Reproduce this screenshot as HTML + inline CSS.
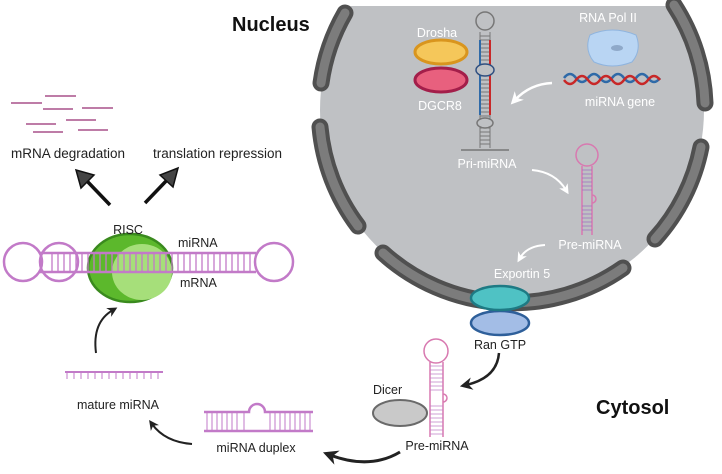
<!DOCTYPE html>
<html><head><meta charset="utf-8"><style>
html,body{margin:0;padding:0;background:#fff}
svg{display:block}
text{font-family:"Liberation Sans",sans-serif}
</style></head><body>
<svg width="722" height="474" viewBox="0 0 722 474" xmlns="http://www.w3.org/2000/svg">
<defs>
<marker id="bh" viewBox="0 0 10 10" refX="5" refY="5" markerWidth="5" markerHeight="5" orient="auto"><path d="M0,0 L10,5 L0,10 L3,5Z" fill="#222"/></marker>
<marker id="wh" viewBox="0 0 10 10" refX="5" refY="5" markerWidth="5" markerHeight="5" orient="auto"><path d="M0,0 L10,5 L0,10 L3,5Z" fill="#fff"/></marker>
</defs>
<!-- nucleus -->
<circle cx="512" cy="110" r="192" fill="#bfc1c4"/>
<rect x="0" y="0" width="722" height="6" fill="#fff"/>
<g fill="none" stroke-linecap="round">
<g stroke="#505050" stroke-width="17">
<path d="M345,13 A193,193 0 0 0 321,83"/>
<path d="M320,127 A193,193 0 0 0 358,226"/>
<path d="M383,253 A193,193 0 0 0 623,268"/>
<path d="M655,239 A193,193 0 0 0 701,147"/>
<path d="M674,5 A193,193 0 0 1 705,103"/>
</g>
<g stroke="#7c7c7c" stroke-width="9">
<path d="M345,13 A193,193 0 0 0 321,83"/>
<path d="M320,127 A193,193 0 0 0 358,226"/>
<path d="M383,253 A193,193 0 0 0 623,268"/>
<path d="M655,239 A193,193 0 0 0 701,147"/>
<path d="M674,5 A193,193 0 0 1 705,103"/>
</g>
</g>
<text x="232" y="31" font-size="20" font-weight="bold" fill="#111">Nucleus</text>
<text x="596" y="414" font-size="20" font-weight="bold" fill="#111">Cytosol</text>

<!-- Drosha / DGCR8 -->
<ellipse cx="441" cy="52" rx="26" ry="12" fill="#f5c75a" stroke="#d9951e" stroke-width="3"/>
<ellipse cx="441" cy="80" rx="26" ry="12" fill="#e8607e" stroke="#a31e4a" stroke-width="3"/>
<text x="437" y="37" font-size="12.5" fill="#fff" text-anchor="middle">Drosha</text>
<text x="440" y="110" font-size="12.5" fill="#fff" text-anchor="middle">DGCR8</text>

<!-- pri-miRNA -->
<g stroke="#777" stroke-width="1">
<path d="M480,32 V148 M490,32 V148"/>
<path d="M480,36 H490 M480,40 H490 M480,44 H490 M480,48 H490 M480,52 H490 M480,56 H490 M480,60 H490 M480,64 H490 M480,76 H490 M480,80 H490 M480,84 H490 M480,88 H490 M480,92 H490 M480,96 H490 M480,100 H490 M480,104 H490 M480,108 H490 M480,112 H490 M480,116 H490 M480,128 H490 M480,132 H490 M480,136 H490 M480,140 H490 M480,144 H490"/>
</g>
<circle cx="485" cy="21" r="9" fill="none" stroke="#777" stroke-width="1.5"/>
<path d="M480,40 V115" stroke="#2f6aa8" stroke-width="2"/>
<path d="M490,40 V115" stroke="#c82828" stroke-width="2"/>
<ellipse cx="485" cy="70" rx="9" ry="6" fill="#bfc1c4" stroke="#2f4f80" stroke-width="1.5"/>
<ellipse cx="485" cy="123" rx="8" ry="5" fill="#bfc1c4" stroke="#777" stroke-width="1.5"/>
<path d="M461,150 H509" stroke="#777" stroke-width="1.5"/>
<text x="487" y="168" font-size="12.5" fill="#fff" text-anchor="middle">Pri-miRNA</text>

<!-- RNA Pol II -->
<path d="M590,35 Q612,25 636,35 Q642,50 632,62 Q612,70 594,62 Q584,50 590,35Z" fill="#b9d5f3" stroke="#8fb4de" stroke-width="1"/>
<ellipse cx="617" cy="48" rx="6" ry="3" fill="#8fa9c9"/>
<text x="608" y="22" font-size="12.5" fill="#fff" text-anchor="middle">RNA Pol II</text>
<path d="M564,78 Q570,70 576,78 T588,78 T600,78 T612,78 T624,78 T636,78 T648,78 T660,78" fill="none" stroke="#2f6aa8" stroke-width="2.5"/>
<path d="M564,80 Q570,88 576,80 T588,80 T600,80 T612,80 T624,80 T636,80 T648,80 T660,80" fill="none" stroke="#c82828" stroke-width="2.5"/>
<text x="620" y="106" font-size="12.5" fill="#fff" text-anchor="middle">miRNA gene</text>
<path d="M552,83 Q530,84 515,100" fill="none" stroke="#fff" stroke-width="2.5" marker-end="url(#wh)"/>

<!-- pre-miRNA nucleus -->
<path d="M582,166 V235 M592,166 V235" stroke="#d879b0" stroke-width="1.5"/>
<g stroke="#a070c0" stroke-width="0.8"><path d="M582,170 H592 M582,174 H592 M582,178 H592 M582,182 H592 M582,186 H592 M582,190 H592 M582,206 H592 M582,210 H592 M582,214 H592 M582,218 H592 M582,222 H592 M582,226 H592 M582,230 H592"/></g>
<circle cx="587" cy="155" r="11" fill="none" stroke="#d879b0" stroke-width="1.5"/>
<path d="M592,195 A4,4 0 0 1 592,203" fill="none" stroke="#d879b0" stroke-width="1.5"/>
<text x="590" y="249" font-size="12.5" fill="#fff" text-anchor="middle">Pre-miRNA</text>
<path d="M532,170 Q555,172 566,190" fill="none" stroke="#fff" stroke-width="2" marker-end="url(#wh)"/>
<path d="M545,245 Q527,246 520,258" fill="none" stroke="#fff" stroke-width="2" marker-end="url(#wh)"/>
<text x="522" y="278" font-size="12.5" fill="#fff" text-anchor="middle">Exportin 5</text>

<!-- exportin, Ran -->
<ellipse cx="500" cy="323" rx="29" ry="12" fill="#a3bde6" stroke="#2e5f9a" stroke-width="2.5"/>
<ellipse cx="500" cy="298" rx="29" ry="12" fill="#4fc2c4" stroke="#1e7a84" stroke-width="2.5"/>
<text x="500" y="349" font-size="12.5" fill="#222" text-anchor="middle">Ran GTP</text>
<path d="M499,353 Q497,378 466,385" fill="none" stroke="#222" stroke-width="2.5" marker-end="url(#bh)"/>

<!-- cytosol pre-miRNA + Dicer -->
<path d="M430,362 V437 M443,362 V437" stroke="#d879b0" stroke-width="1.5"/>
<g stroke="#c080c8" stroke-width="0.8"><path d="M430,366 H443 M430,370 H443 M430,374 H443 M430,378 H443 M430,382 H443 M430,386 H443 M430,390 H443 M430,406 H443 M430,410 H443 M430,414 H443 M430,418 H443 M430,422 H443 M430,426 H443 M430,430 H443 M430,434 H443"/></g>
<circle cx="436" cy="351" r="12" fill="none" stroke="#d879b0" stroke-width="1.5"/>
<path d="M443,394 A4,4 0 0 1 443,402" fill="none" stroke="#d879b0" stroke-width="1.5"/>
<ellipse cx="400" cy="413" rx="27" ry="13" fill="#c9c9c9" stroke="#6a6a6a" stroke-width="2"/>
<text x="373" y="394" font-size="12.5" fill="#222">Dicer</text>
<text x="437" y="450" font-size="12.5" fill="#222" text-anchor="middle">Pre-miRNA</text>
<path d="M400,452 Q370,470 330,455" fill="none" stroke="#222" stroke-width="3" marker-end="url(#bh)"/>

<!-- duplex -->
<path d="M204,412 H249 A8,8 0 0 1 265,412 H313 M204,431 H313" stroke="#c27ac8" stroke-width="2.5" fill="none"/>
<g stroke="#c27ac8" stroke-width="1"><path d="M207,412 V431 M212,412 V431 M217,412 V431 M222,412 V431 M227,412 V431 M232,412 V431 M237,412 V431 M244,412 V431 M270,412 V431 M275,412 V431 M280,412 V431 M285,412 V431 M290,412 V431 M295,412 V431 M300,412 V431 M305,412 V431 M310,412 V431"/></g>
<text x="256" y="452" font-size="12.5" fill="#222" text-anchor="middle">miRNA duplex</text>
<path d="M192,444 Q165,442 152,424" fill="none" stroke="#222" stroke-width="2" marker-end="url(#bh)"/>

<!-- mature -->
<path d="M65,372 H163" stroke="#c27ac8" stroke-width="2"/>
<g stroke="#c27ac8" stroke-width="1"><path d="M67,372 V379 M74,372 V379 M81,372 V379 M88,372 V379 M95,372 V379 M102,372 V379 M109,372 V379 M116,372 V379 M123,372 V379 M130,372 V379 M137,372 V379 M144,372 V379 M151,372 V379 M158,372 V379"/></g>
<text x="118" y="409" font-size="12.5" fill="#222" text-anchor="middle">mature miRNA</text>
<path d="M96,353 Q92,322 113,310" fill="none" stroke="#222" stroke-width="2" marker-end="url(#bh)"/>

<!-- RISC -->
<ellipse cx="130" cy="268" rx="42" ry="34" fill="#5cb82c" stroke="#3a8a1e" stroke-width="2.5"/>
<ellipse cx="142" cy="272" rx="30" ry="28" fill="#a6df7a"/>
<g fill="none" stroke="#c27ac8" stroke-width="2.5">
<circle cx="23" cy="262" r="19"/>
<circle cx="59" cy="262" r="19"/>
<circle cx="274" cy="262" r="19"/>
<path d="M40,253 H256 M40,272 H256"/>
</g>
<g stroke="#c27ac8" stroke-width="1.3"><path d="M52,253V272 M58,253V272 M64,253V272 M70,253V272 M76,253V272 M82,253V272 M88,253V272 M94,253V272 M100,253V272 M106,253V272 M112,253V272 M118,253V272 M124,253V272 M130,253V272 M136,253V272 M142,253V272 M148,253V272 M154,253V272 M160,253V272 M166,253V272 M172,253V272 M178,253V272 M184,253V272 M190,253V272 M196,253V272 M202,253V272 M208,253V272 M214,253V272 M220,253V272 M226,253V272 M232,253V272 M238,253V272 M244,253V272 M250,253V272"/></g>
<text x="128" y="234" font-size="12.5" fill="#222" text-anchor="middle">RISC</text>
<text x="178" y="247" font-size="12.5" fill="#222">miRNA</text>
<text x="180" y="287" font-size="12.5" fill="#222">mRNA</text>

<!-- arrows up -->
<path d="M110,205 L86,180" stroke="#111" stroke-width="3.5"/>
<path d="M76,170 L94,175 L81,188Z" fill="#444" stroke="#111" stroke-width="1.5"/>
<path d="M145,203 L168,179" stroke="#111" stroke-width="3.5"/>
<path d="M178,168 L173,187 L160,175Z" fill="#444" stroke="#111" stroke-width="1.5"/>
<text x="11" y="158" font-size="13.5" fill="#222">mRNA degradation</text>
<text x="153" y="158" font-size="13.5" fill="#222">translation repression</text>

<!-- fragments -->
<g stroke="#a8508a" stroke-width="1.5">
<path d="M11,103 H42 M45,96 H76 M43,109 H73 M82,108 H113 M26,124 H56 M66,120 H96 M33,132 H63 M78,130 H108"/>
</g>
</svg>
</body></html>
